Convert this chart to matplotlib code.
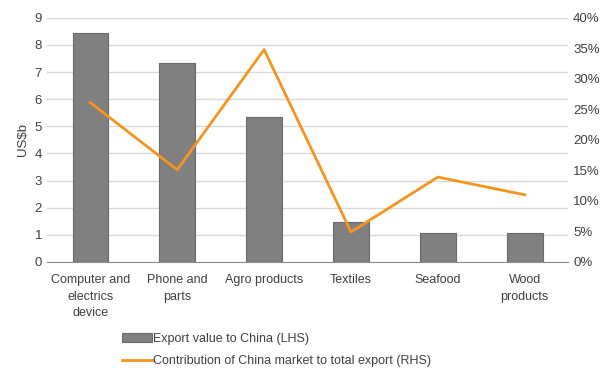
import matplotlib.pyplot as plt
import numpy as np
from matplotlib.ticker import FuncFormatter

plt.rcParams['font.family'] = ['Liberation Sans', 'DejaVu Sans']

categories = ['Computer and\nelectrics\ndevice', 'Phone and\nparts', 'Agro products',
              'Textiles', 'Seafood', 'Wood\nproducts']
export_value = [8.45, 7.35, 5.33, 1.47, 1.08, 1.05]
china_share = [26.1, 15.1, 34.8, 4.9, 13.9, 11.0]

txt = '#404040'
fs = 9
fig = plt.figure(figsize=(6.09, 3.72), dpi=100)
ax = fig.add_axes([0.077, 0.296, 0.856, 0.656])
ax2 = ax.twinx()

x = np.arange(len(categories))
bars = ax.bar(x, export_value, width=0.41, color='#808080', edgecolor='#6a6a6a', linewidth=0.8,
              label='Export value to China (LHS)', zorder=2)
line, = ax2.plot(x, china_share, color='#f7941d', linewidth=2, label='Contribution of China market to total export (RHS)')

ax.set_xlim(-0.5, len(categories) - 0.5)
ax.set_ylim(0, 9)
ax.set_yticks(range(10))
ax2.set_ylim(0, 40)
ax2.set_yticks(range(0, 41, 5))
ax2.yaxis.set_major_formatter(FuncFormatter(lambda v, p: f'{v:.0f}%'))

ax.yaxis.grid(True, color='#d9d9d9', linewidth=1, zorder=0)
ax.set_axisbelow(True)
for a in (ax, ax2):
    for s in a.spines.values():
        s.set_visible(False)
    a.tick_params(length=0, labelsize=fs + 0.5, colors=txt)
ax.spines['bottom'].set_visible(True)
ax.spines['bottom'].set_color('#8c8c8c')
ax.set_xticks(x)
ax.set_xticklabels(categories, linespacing=1.5, fontsize=fs)
ax.tick_params(axis='x', pad=9)
ax.set_ylabel('US$b', color=txt, fontsize=fs + 0.5, labelpad=4)

fig.legend([bars, line], [bars.get_label(), line.get_label()], loc='upper left',
           bbox_to_anchor=(0.2, 0.105), ncol=1, frameon=False, fontsize=fs,
           labelcolor=txt, handlelength=2.4, handletextpad=0.1, labelspacing=0.8,
           borderpad=0, borderaxespad=0)

fig.savefig('out.png', dpi=100)
